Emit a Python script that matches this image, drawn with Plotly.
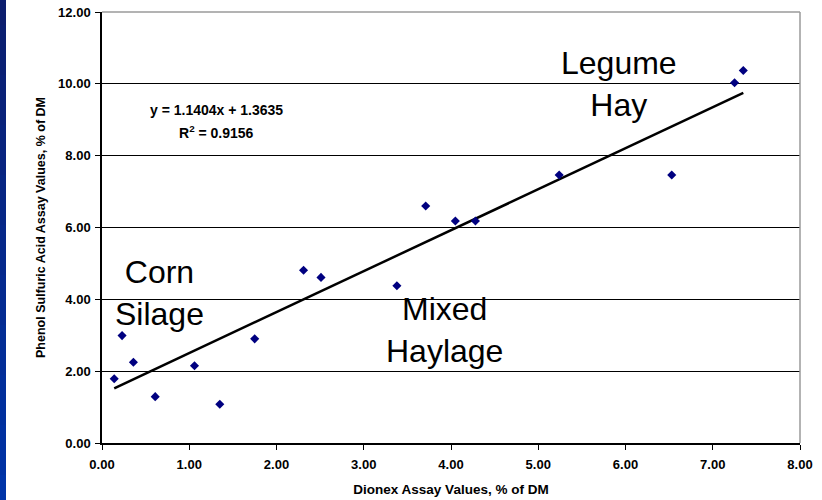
import plotly.graph_objects as go

# Data
dionex = [0.14, 0.23, 0.36, 0.61, 1.06, 1.35, 1.75, 2.31, 2.51, 3.38, 3.71, 4.05, 4.28, 5.24, 6.53, 7.25, 7.35]
phenol = [1.79, 2.99, 2.25, 1.29, 2.15, 1.08, 2.90, 4.81, 4.61, 4.38, 6.60, 6.18, 6.18, 7.46, 7.46, 10.03, 10.37]

slope = 1.1404
intercept = 1.3635
r_squared = 0.9156

x_ticks = [0, 1, 2, 3, 4, 5, 6, 7, 8]
y_ticks = [0, 2, 4, 6, 8, 10, 12]

trend_x = [min(dionex), max(dionex)]
trend_y = [slope * v + intercept for v in trend_x]

FONT = "Liberation Sans, Arial, sans-serif"
PW, PH = 698, 431  # plot area size in px

fig = go.Figure()
fig.add_trace(go.Scatter(x=trend_x, y=trend_y, mode="lines",
                         line=dict(color="black", width=2.5), hoverinfo="skip"))
fig.add_trace(go.Scatter(x=dionex, y=phenol, mode="markers",
                         marker=dict(symbol="diamond", size=7, color="#000080")))

# left blue strip (gradient imitation)
n = 20
for i in range(n):
    t = i / (n - 1)
    r = int(12 + (0 - 12) * t)
    g = int(30 + (52 - 30) * t)
    b = int(110 + (168 - 110) * t)
    top_px = i * 500 / n
    bot_px = (i + 1) * 500 / n + 2
    fig.add_shape(type="rect", xref="paper", yref="paper",
                  x0=-102 / PW, x1=-96 / PW,
                  y0=1 + (12 - top_px) / PH, y1=1 + (12 - bot_px) / PH,
                  fillcolor=f"rgb({r},{g},{b})", line=dict(width=0), layer="below")

# gray frame on top and right
fig.add_shape(type="line", xref="paper", yref="paper", x0=0, x1=1, y0=1, y1=1,
              line=dict(color="#9a9a9a", width=1.5), layer="above")
fig.add_shape(type="line", xref="paper", yref="paper", x0=1, x1=1, y0=0, y1=1,
              line=dict(color="#9a9a9a", width=1.5), layer="above")

eq_font = dict(family=FONT, size=14, color="black")
fig.add_annotation(x=1.31, y=9.28, xref="x", yref="y", text="<b>y = 1.1404x + 1.3635</b>",
                   showarrow=False, font=eq_font)
fig.add_annotation(x=1.31, y=8.67, xref="x", yref="y", text=f"<b>R<sup>2</sup> = {r_squared}</b>",
                   showarrow=False, font=eq_font)

big = dict(family=FONT, size=32, color="black")
fig.add_annotation(x=0.66, y=4.18, xref="x", yref="y", text="Corn<br>Silage",
                   showarrow=False, font=big, align="center")
fig.add_annotation(x=3.92, y=3.14, xref="x", yref="y", text="Mixed<br>Haylage",
                   showarrow=False, font=big, align="center")
fig.add_annotation(x=5.93, y=9.99, xref="x", yref="y", text="Legume<br>Hay",
                   showarrow=False, font=big, align="center")

fig.update_layout(
    width=822, height=500,
    margin=dict(l=102, r=22, t=12, b=57),
    paper_bgcolor="white", plot_bgcolor="white",
    showlegend=False,
    font=dict(family=FONT, color="black"),
)
fig.update_xaxes(range=[0, 8], tickvals=x_ticks, ticktext=[f"<b>{v:.2f}</b>" for v in x_ticks],
                 showgrid=False, zeroline=False, showline=True, linecolor="black", linewidth=1.5,
                 ticks="outside", ticklen=5, tickcolor="black", automargin=False,
                 ticklabelstandoff=4,
                 tickfont=dict(family=FONT, size=13, color="black"),
                 title=dict(text="<b>Dionex Assay Values, % of DM</b>",
                            font=dict(family=FONT, size=13.5, color="black"), standoff=13))
fig.update_yaxes(range=[0, 12], tickvals=y_ticks, ticktext=[f"<b>{v:.2f}</b>" for v in y_ticks],
                 showgrid=True, gridcolor="black", gridwidth=1, zeroline=False,
                 showline=True, linecolor="black", linewidth=1.5,
                 ticks="outside", ticklen=5, tickcolor="black", automargin=False,
                 ticklabelstandoff=2,
                 tickfont=dict(family=FONT, size=13, color="black"),
                 title=dict(text="<b>Phenol Sulfuric Acid Assay Values, % of DM</b>",
                            font=dict(family=FONT, size=12.5, color="black"), standoff=10))

fig.write_html("out.html", config={"displayModeBar": False},
               post_script="document.body.style.margin='0px';")
